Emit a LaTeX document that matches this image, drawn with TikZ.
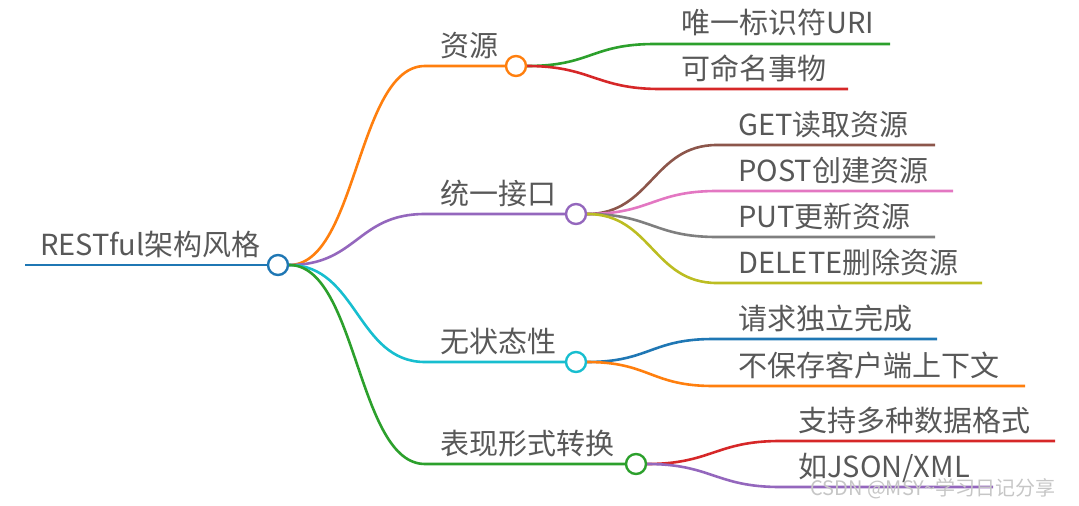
\documentclass[tikz,border=0pt]{standalone}
\usepackage{fontspec}
\setmainfont{Noto Sans CJK SC}
\usetikzlibrary{positioning,calc,backgrounds}

\definecolor{tblue}{RGB}{31,119,180}
\definecolor{torange}{RGB}{255,127,14}
\definecolor{tgreen}{RGB}{44,160,44}
\definecolor{tred}{RGB}{214,39,40}
\definecolor{tpurple}{RGB}{148,103,189}
\definecolor{tbrown}{RGB}{140,86,75}
\definecolor{tpink}{RGB}{227,119,194}
\definecolor{tgray}{RGB}{127,127,127}
\definecolor{tolive}{RGB}{188,189,34}
\definecolor{tcyan}{RGB}{23,190,207}
\definecolor{txtgray}{RGB}{88,88,88}

\tikzset{
  hub/.style={circle,draw,fill=white,line width=2.4pt,minimum size=20pt,inner sep=0pt},
  txt/.style={anchor=base west,inner sep=0pt,text=txtgray,font=\fontsize{29}{32}\selectfont},
  branch/.style={line width=2.6pt},
}

\begin{document}
\begin{tikzpicture}[x=1pt,y=-1pt]
  \useasboundingbox (0,0) rectangle (1079,506);

  % hubs
  \node[hub,draw=tblue]   (root) at (278,265) {};
  \node[hub,draw=torange] (res)  at (516,66)  {};
  \node[hub,draw=tpurple] (uni)  at (576,214) {};
  \node[hub,draw=tcyan]   (sta)  at (576,362) {};
  \node[hub,draw=tgreen]  (rep)  at (636,464) {};

  % labels
  \node[txt] (root-t) at (40,255)  {RESTful架构风格};
  \node[txt] (res-t)  at (440,56)  {资源};
  \node[txt] (uni-t)  at (440,204) {统一接口};
  \node[txt] (sta-t)  at (440,352) {无状态性};
  \node[txt] (rep-t)  at (440,454) {表现形式转换};
  \node[txt] (uri-t)  at (681,34)  {唯一标识符URI};
  \node[txt] (nam-t)  at (681,79)  {可命名事物};
  \node[txt] (get-t)  at (738,135) {GET读取资源};
  \node[txt] (post-t) at (738,181) {POST创建资源};
  \node[txt] (put-t)  at (738,227) {PUT更新资源};
  \node[txt] (del-t)  at (738,273) {DELETE删除资源};
  \node[txt] (ind-t)  at (738,329) {请求独立完成};
  \node[txt] (ctx-t)  at (738,376) {不保存客户端上下文};
  \node[txt] (fmt-t)  at (798,431) {支持多种数据格式};
  \node[txt] (jsn-t)  at (798,477) {如JSON/XML};

  % bends and line ends
  \coordinate (root-s) at (25,265);
  \coordinate (res-b) at (425,66);
  \coordinate (uni-b) at (425,214);
  \coordinate (sta-b) at (425,362);
  \coordinate (rep-b) at (425,464);
  \coordinate (uri-b) at (655,44);   \coordinate (uri-e) at (890,44);
  \coordinate (nam-b) at (660,89);   \coordinate (nam-e) at (848,89);
  \coordinate (get-b) at (717,145);  \coordinate (get-e) at (935,145);
  \coordinate (post-b) at (717,191); \coordinate (post-e) at (953,191);
  \coordinate (put-b) at (717,237);  \coordinate (put-e) at (935,237);
  \coordinate (del-b) at (717,283);  \coordinate (del-e) at (982,283);
  \coordinate (ind-b) at (713,339);  \coordinate (ind-e) at (937,339);
  \coordinate (ctx-b) at (713,386);  \coordinate (ctx-e) at (1025,386);
  \coordinate (fmt-b) at (780,441);  \coordinate (fmt-e) at (1055,441);
  \coordinate (jsn-b) at (780,487);  \coordinate (jsn-e) at (993,487);

  \begin{scope}[on background layer]
    \draw[branch,tblue] (root-s) -- (root);
    % first level
    \draw[branch,torange] (root.east) .. controls +(68,0) and +(-68,0) .. (res-b) -- (res);
    \draw[branch,tpurple] (root.east) .. controls +(68,0) and +(-68,0) .. (uni-b) -- (uni);
    \draw[branch,tcyan]   (root.east) .. controls +(68,0) and +(-68,0) .. (sta-b) -- (sta);
    \draw[branch,tgreen]  (root.east) .. controls +(68,0) and +(-68,0) .. (rep-b) -- (rep);
    % second level
    \draw[branch,tgreen]  (res.east) .. controls +(64,0) and +(-64,0) .. (uri-b) -- (uri-e);
    \draw[branch,tred]    (res.east) .. controls +(64,0) and +(-64,0) .. (nam-b) -- (nam-e);
    \draw[branch,tbrown]  (uni.east) .. controls +(64,0) and +(-64,0) .. (get-b) -- (get-e);
    \draw[branch,tpink]   (uni.east) .. controls +(64,0) and +(-64,0) .. (post-b) -- (post-e);
    \draw[branch,tgray]   (uni.east) .. controls +(64,0) and +(-64,0) .. (put-b) -- (put-e);
    \draw[branch,tolive]  (uni.east) .. controls +(64,0) and +(-64,0) .. (del-b) -- (del-e);
    \draw[branch,tblue]   (sta.east) .. controls +(62,0) and +(-62,0) .. (ind-b) -- (ind-e);
    \draw[branch,torange] (sta.east) .. controls +(62,0) and +(-62,0) .. (ctx-b) -- (ctx-e);
    \draw[branch,tred]    (rep.east) .. controls +(64,0) and +(-64,0) .. (fmt-b) -- (fmt-e);
    \draw[branch,tpurple] (rep.east) .. controls +(64,0) and +(-64,0) .. (jsn-b) -- (jsn-e);
  \end{scope}

  % watermark
  \node[anchor=west,inner sep=0pt,text=gray!45,font=\fontsize{20}{22}\selectfont] (mark) at (810,489) {CSDN @MSY\textasciitilde 学习日记分享};
\end{tikzpicture}
\end{document}
